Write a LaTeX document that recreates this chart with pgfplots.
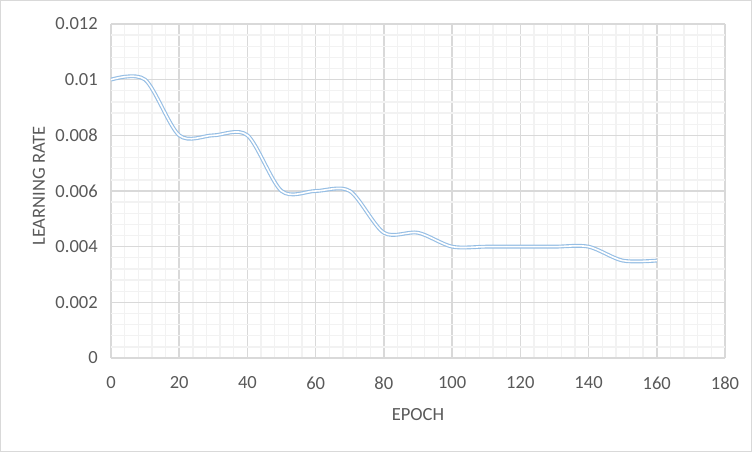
\documentclass[border=0pt]{standalone}
\usepackage{fontspec}
\setmainfont{Carlito}
\usepackage{pgfplots}
\pgfplotsset{compat=1.18}

\definecolor{lineblue}{RGB}{150,190,228}
\definecolor{majgrid}{RGB}{217,217,217}
\definecolor{mingrid}{RGB}{242,242,242}
\definecolor{txt}{RGB}{89,89,89}

% learning rate, every 10 epochs
\pgfplotstableread{
epoch lr
0    0.0100
10   0.0100
20   0.0080
30   0.0080
40   0.0080
50   0.0060
60   0.0060
70   0.0060
80   0.0045
90   0.0045
100  0.0040
110  0.0040
120  0.0040
130  0.0040
140  0.0040
150  0.0035
160  0.0035
}\lrdata

\begin{document}
\begin{tikzpicture}
\useasboundingbox (-83.25pt,-70.5pt) rectangle (480.75pt,268.5pt);
\draw[majgrid, line width=0.75pt] (-82.875pt,-70.125pt) rectangle (480.375pt,268.125pt);
\begin{axis}[
    scale only axis,
    width=460.5pt,
    height=250.5pt,
    xmin=0, xmax=180,
    ymin=0, ymax=0.012,
    xtick={0,20,40,60,80,100,120,140,160,180},
    xticklabels={0,20,40,60,80,100,120,140,160,180},
    ytick={0,0.002,0.004,0.006,0.008,0.01,0.012},
    yticklabels={0,0.002,0.004,0.006,0.008,0.01,0.012},
    scaled y ticks=false,
    minor x tick num=4,
    minor y tick num=4,
    grid=both,
    major grid style={majgrid, line width=1.1pt},
    minor grid style={mingrid, line width=1pt},
    axis line style={draw=none},
    major tick length=0pt,
    minor tick length=0pt,
    tick style={draw=none},
    tick label style={font=\fontsize{13.9}{16}\selectfont, text=txt, inner sep=0pt},
    xticklabel style={anchor=center, yshift=-18.75pt},
    yticklabel style={anchor=east, xshift=-9.75pt},
    label style={font=\fontsize{13.9}{16}\selectfont, text=txt, inner sep=0pt},
    xlabel={EPOCH},
    ylabel={LEARNING RATE},
    xlabel style={at={(axis description cs:0.5,-0.1707)}, anchor=center},
    ylabel style={at={(axis description cs:-0.1172,0.515)}, anchor=center},
]
\addplot[smooth, tension=0.5, draw=lineblue, line width=0.85pt, double=white, double distance=1.2pt]
    table[x=epoch, y=lr] {\lrdata};
\end{axis}
\end{tikzpicture}
\end{document}
